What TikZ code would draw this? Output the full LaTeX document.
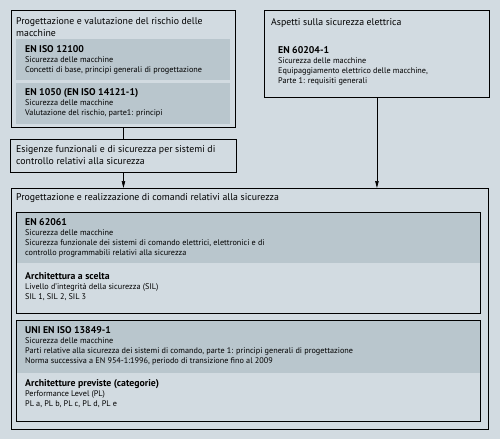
\documentclass[tikz,border=0pt]{standalone}
\usepackage{fontspec}
\setmainfont{PT Sans}
\usetikzlibrary{arrows.meta}
\definecolor{bgc}{RGB}{210,219,225}
\definecolor{shade}{RGB}{185,198,205}
\newcommand{\hd}[1]{\textbf{\fontsize{9.8}{10}\selectfont #1}}
\newcommand{\blk}[1]{\begin{tabular}[t]{@{}l@{}}#1\end{tabular}}
\tikzset{
  frame/.style={draw=black, line width=0.9pt, anchor=north west, inner sep=0pt},
  panel/.style={fill=shade, draw=none, anchor=north west, inner sep=0pt},
  ttl/.style={anchor=base west, inner sep=0pt, font=\fontsize{9.8}{12.4}\selectfont},
  body/.style={anchor=base west, inner sep=0pt, font=\fontsize{8.2}{10}\selectfont},
  conn/.style={draw=black, line width=0.7pt},
  arr/.style={conn, -{Triangle[width=3.5pt,length=7pt]}},
}
\begin{document}
\begin{tikzpicture}[x=1pt,y=-1pt]
\fill[bgc] (0,0) rectangle (500,439);
\useasboundingbox (0,0) rectangle (500,439);
% box 1
\node[frame, minimum width=224, minimum height=117] (b1) at (11,10) {};
\node[panel, minimum width=214, minimum height=41] (p11) at (16,39) {};
\node[panel, minimum width=214, minimum height=41] (p12) at (16,83) {};
\node[ttl] (t1) at (16,24) {\blk{Progettazione e valutazione del rischio delle\\macchine}};
\node[body] (t11) at (25,52) {\blk{\hd{EN ISO 12100}\\Sicurezza delle macchine\\Concetti di base, principi generali di progettazione}};
\node[body] (t12) at (25,95) {\blk{\hd{EN 1050 (EN ISO 14121-1)}\\Sicurezza delle macchine\\Valutazione del rischio, parte1: principi}};
% box 2
\node[frame, minimum width=225, minimum height=87] (b2) at (264,10) {};
\node[ttl] (t2) at (271,25) {Aspetti sulla sicurezza elettrica};
\node[body] (t21) at (278,53) {\blk{\hd{EN 60204-1}\\Sicurezza delle macchine\\Equipaggiamento elettrico delle macchine,\\Parte 1: requisiti generali}};
% esigenze
\node[frame, minimum width=226, minimum height=33] (b3) at (10,139) {};
\node[ttl] (t3) at (16,152) {\blk{Esigenze funzionali e di sicurezza per sistemi di\\controllo relativi alla sicurezza}};
% big box
\node[frame, minimum width=477, minimum height=241] (b4) at (11,188) {};
\node[ttl] (t4) at (16,200) {Progettazione e realizzazione di comandi relativi alla sicurezza};
\node[panel, minimum width=464, minimum height=51] (p41) at (16,212) {};
\node[frame, minimum width=464, minimum height=101] (f41) at (16,212) {};
\node[body] (t41) at (25,225) {\blk{\hd{EN 62061}\\Sicurezza delle macchine\\Sicurezza funzionale dei sistemi di comando elettrici, elettronici e di\\controllo programmabili relativi alla sicurezza}};
\node[body] (t42) at (25,279) {\blk{\hd{Architettura a scelta}\\Livello d'integrità della sicurezza (SIL)\\SIL 1, SIL 2, SIL 3}};
\node[panel, minimum width=464, minimum height=53] (p42) at (16,320) {};
\node[frame, minimum width=464, minimum height=101] (f42) at (16,320) {};
\node[body] (t43) at (25,333) {\blk{\hd{UNI EN ISO 13849-1}\\Sicurezza delle macchine\\Parti relative alla sicurezza dei sistemi di comando, parte 1: principi generali di progettazione\\Norma successiva a EN 954-1:1996, periodo di transizione fino al 2009}};
\node[body] (t44) at (25,386) {\blk{\hd{Architetture previste (categorie)}\\Performance Level (PL)\\PL a, PL b, PL c, PL d, PL e}};
% connectors
\draw[conn] (b1.south) -- (b3.north);
\draw[arr] (b3.south) -- (b3.south |- b4.north);
\draw[arr] (b2.south) -- (b2.south |- b4.north);
\end{tikzpicture}
\end{document}
